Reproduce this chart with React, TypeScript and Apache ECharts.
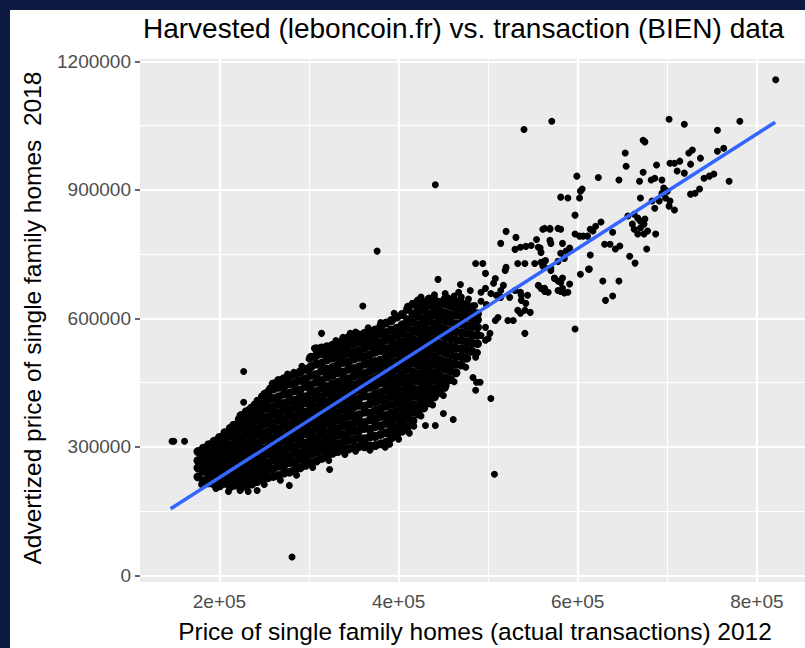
import React, { useEffect, useRef } from "react";
import * as echarts from "echarts";

const TITLE = "Harvested (leboncoin.fr) vs. transaction (BIEN) data";
const X_TITLE = "Price of single family homes (actual transactions) 2012";
const Y_TITLE = "Advertized price of single family homes  2018";

const xTickValues = [200000, 400000, 600000, 800000];
const xMinorValues = [300000, 500000, 700000];
const yTickValues = [0, 300000, 600000, 900000, 1200000];
const yMinorValues = [150000, 450000, 750000, 1050000];

// fitted regression line end points (price 2012 -> advertised 2018)
const fitX = [145500, 820500];
const fitY = [155500, 1058000];

// dense cloud, read column by column (thousands of euros)
const blobX = [176, 182, 188, 194, 200, 206, 212, 218, 224, 230, 236, 242, 248, 254, 260, 266, 272, 278, 284, 290, 296, 302, 308, 314, 320, 326, 332, 338, 344, 350, 356, 362, 368, 374, 380, 386, 392, 398, 404, 410, 416, 422, 428, 434, 440, 446, 452, 458, 464, 470, 476, 482, 488];
const blobY = [
  [230, 251, 268, 289],
  [221, 243, 259, 278, 297],
  [216, 236, 250, 271, 286, 305],
  [213, 229, 247, 261, 281, 299, 313],
  [209, 226, 241, 259, 273, 292, 307, 322],
  [215, 231, 249, 264, 283, 298, 317, 333],
  [207, 223, 240, 255, 273, 291, 305, 325, 343],
  [211, 229, 245, 263, 279, 296, 315, 331, 351],
  [205, 219, 237, 253, 271, 287, 306, 321, 341, 358, 373],
  [209, 227, 243, 261, 277, 296, 311, 331, 347, 366, 382],
  [213, 233, 249, 267, 285, 301, 320, 337, 355, 373, 391],
  [219, 238, 256, 271, 291, 307, 327, 343, 363, 379, 399],
  [225, 243, 261, 278, 295, 315, 331, 351, 367, 387, 405, 417],
  [228, 247, 263, 283, 299, 319, 335, 355, 371, 391, 409, 427],
  [231, 249, 269, 285, 305, 321, 341, 357, 377, 393, 413, 435, 447],
  [233, 255, 271, 291, 307, 327, 343, 363, 379, 399, 417, 439, 455],
  [239, 257, 277, 293, 313, 329, 349, 365, 385, 401, 423, 441, 459],
  [241, 263, 279, 299, 315, 335, 351, 371, 387, 407, 425, 447, 465],
  [247, 265, 285, 301, 321, 337, 357, 373, 393, 409, 431, 449, 469],
  [251, 271, 287, 307, 323, 343, 359, 379, 395, 415, 433, 455, 475],
  [257, 275, 295, 309, 331, 345, 367, 381, 403, 417, 441, 459, 481],
  [263, 283, 299, 319, 335, 355, 371, 391, 407, 427, 445, 467, 487, 509],
  [267, 287, 305, 321, 341, 357, 377, 393, 413, 429, 451, 469, 493, 513, 529],
  [273, 293, 309, 329, 345, 365, 381, 401, 417, 437, 455, 477, 495, 517, 531],
  [279, 297, 317, 333, 353, 369, 389, 405, 425, 441, 463, 481, 503, 519, 534],
  [285, 303, 321, 339, 357, 375, 393, 411, 429, 447, 467, 485, 507, 523, 537],
  [289, 307, 327, 343, 363, 379, 399, 415, 435, 451, 473, 491, 511, 529, 541],
  [293, 311, 329, 349, 365, 385, 401, 421, 437, 457, 475, 497, 515, 533, 549],
  [295, 315, 333, 351, 371, 387, 407, 423, 443, 459, 481, 499, 519, 537, 555],
  [299, 317, 337, 355, 373, 393, 409, 429, 445, 465, 483, 505, 521, 541, 559],
  [301, 321, 339, 359, 375, 397, 413, 433, 449, 469, 487, 509, 525, 545, 561],
  [300, 319, 343, 357, 381, 395, 419, 435, 455, 471, 493, 511, 531, 549, 565],
  [302, 323, 341, 363, 379, 401, 417, 439, 457, 477, 495, 515, 535, 553, 569],
  [303, 325, 347, 365, 385, 405, 423, 443, 461, 481, 499, 521, 539, 557, 573],
  [307, 329, 349, 371, 389, 409, 427, 449, 467, 487, 503, 525, 543, 563, 581],
  [311, 333, 355, 373, 395, 413, 433, 451, 471, 491, 509, 529, 549, 567, 589],
  [321, 341, 359, 379, 399, 419, 437, 457, 475, 495, 515, 533, 553, 573, 595],
  [329, 347, 367, 385, 405, 423, 443, 461, 481, 499, 519, 539, 559, 577, 603],
  [337, 355, 375, 393, 413, 431, 451, 469, 489, 507, 527, 545, 565, 585, 609],
  [347, 367, 385, 405, 423, 443, 461, 481, 499, 519, 537, 557, 577, 597, 621],
  [361, 381, 399, 419, 437, 457, 475, 495, 513, 533, 551, 571, 591, 611, 633],
  [377, 395, 415, 433, 453, 471, 491, 509, 529, 547, 567, 585, 605, 625, 641],
  [391, 409, 429, 447, 467, 485, 505, 523, 543, 561, 581, 599, 619, 637],
  [403, 421, 441, 459, 479, 497, 517, 535, 555, 573, 593, 611, 631, 645],
  [417, 435, 455, 473, 493, 511, 531, 549, 569, 587, 607, 625, 643],
  [427, 447, 465, 485, 503, 523, 541, 561, 579, 599, 617, 637],
  [443, 461, 481, 499, 519, 537, 557, 575, 595, 613, 633, 645],
  [457, 477, 495, 515, 533, 553, 571, 591, 609, 629, 641],
  [473, 493, 511, 531, 549, 569, 587, 607, 625, 639],
  [491, 511, 529, 549, 567, 587, 605, 623, 636],
  [507, 527, 545, 565, 583, 603, 619, 631],
  [523, 543, 561, 581, 599, 615, 627],
  [541, 561, 579, 597, 611],
];

// ragged edge of the dense cloud (thousands of euros)
const fringePoints: [number, number][] = [
  [215, 352], [221, 365], [233, 388], [239, 400], [250, 425], [256, 437], [276, 470], [292, 488], [300, 505], [311, 520],
  [330, 548], [338, 556], [352, 568], [366, 578], [380, 590], [395, 612], [410, 628], [425, 650], [440, 655], [452, 658],
  [180, 212], [196, 203], [210, 196], [232, 196], [250, 212], [268, 222], [286, 234], [304, 252], [322, 268], [340, 282],
  [352, 290], [368, 292], [390, 306], [400, 318], [412, 332], [425, 372], [438, 398], [450, 420], [462, 452], [475, 486],
  [488, 520],
];

// scattered points outside the dense cloud (thousands of euros)
const sparsePoints: [number, number][] = [
  [821, 1157], [540, 1041], [571, 1060], [702, 1065], [719, 1053], [781, 1060], [756, 1039], [673, 1016], [675, 1012], [653, 986],
  [654, 955], [599, 932], [623, 929], [646, 923], [669, 920], [673, 941], [682, 923], [686, 927], [688, 958], [703, 962],
  [708, 962], [714, 967], [724, 986], [728, 993], [737, 974], [726, 960], [711, 944], [719, 939], [756, 990], [763, 997],
  [741, 927], [747, 932], [752, 937], [769, 920], [603, 897], [605, 902], [581, 883], [589, 881], [602, 881], [597, 841],
  [694, 923], [696, 904], [700, 897], [694, 892], [698, 881], [703, 874], [702, 862], [708, 853], [691, 874], [686, 857],
  [683, 874], [670, 881], [726, 890], [731, 892], [736, 902], [656, 839], [663, 843], [667, 834], [670, 827], [674, 820],
  [675, 832], [661, 820], [663, 808], [667, 797], [674, 797], [678, 804], [687, 797], [670, 811], [677, 762], [658, 745],
  [664, 729], [628, 687], [646, 687], [631, 642], [639, 652], [597, 575], [639, 801], [626, 825], [620, 815], [614, 808],
  [630, 773], [636, 773], [642, 762], [647, 769], [614, 748], [613, 715], [603, 703], [597, 797], [602, 792], [606, 792],
  [611, 792], [617, 804], [561, 808], [569, 808], [581, 808], [558, 764], [570, 775], [583, 775], [581, 752], [587, 757],
  [591, 764], [585, 740], [578, 733], [563, 733], [561, 722], [570, 717], [574, 694], [583, 694], [578, 687], [591, 680],
  [559, 670], [563, 663], [581, 663], [585, 659], [612, 715],
  [376, 757], [441, 912], [520, 803], [514, 775], [531, 789], [530, 761], [536, 766], [542, 768], [548, 770], [554, 784],
  [563, 810], [569, 810], [578, 810], [569, 782], [556, 766], [559, 754], [486, 728], [494, 728], [497, 705], [444, 691],
  [519, 712], [520, 719], [533, 728], [541, 728], [508, 693], [506, 682], [517, 677], [514, 665], [469, 679], [467, 661],
  [480, 665], [492, 661], [497, 670], [503, 658], [509, 654], [514, 649], [524, 649], [530, 665], [536, 661], [537, 654],
  [544, 654], [552, 728], [559, 731], [564, 735], [563, 719], [570, 712], [574, 693], [581, 684], [583, 670], [578, 665],
  [589, 661], [556, 677], [563, 670], [567, 661], [537, 642], [542, 635], [541, 619], [547, 614], [536, 612], [533, 619],
  [541, 565], [528, 595], [522, 595], [497, 579], [502, 565], [500, 553], [492, 560], [497, 549], [508, 595], [511, 602],
  [486, 509], [483, 462], [487, 451], [491, 451], [486, 432], [503, 413], [447, 437], [452, 437], [444, 427], [450, 378],
  [461, 364], [417, 348], [430, 350], [441, 350], [385, 299], [360, 629],
  [507, 236], [422, 418], [424, 453], [409, 390], [392, 367], [403, 367], [403, 346], [374, 322], [363, 304], [358, 304],
  [436, 467], [444, 483],
  [147, 313], [149, 313], [161, 313], [281, 43], [227, 476], [227, 404], [223, 198], [242, 198], [278, 210], [323, 247],
  [200, 217], [198, 311], [200, 311], [189, 257], [187, 233], [191, 245], [202, 276], [229, 348], [228, 341], [231, 339],
  [236, 374], [244, 390], [242, 409], [252, 413], [262, 448], [267, 455], [270, 451], [283, 474], [289, 455], [297, 483],
  [303, 490], [306, 530], [319, 530], [314, 565], [346, 565],
  [485, 630], [492, 640], [498, 632], [478, 645], [470, 650], [462, 652], [455, 648],
];

const FONT = "'Liberation Sans', Arial, Helvetica, sans-serif";

export default function App() {
  const ref = useRef<HTMLDivElement>(null);

  useEffect(() => {
    if (!ref.current) return;
    const chart = echarts.init(ref.current, undefined, { renderer: "svg" });

    const blobPoints: number[][] = [];
    blobX.forEach((x, i) => {
      blobY[i].forEach((y) => blobPoints.push([x * 1000, y * 1000]));
    });
    const loosePoints = sparsePoints
      .concat(fringePoints)
      .map(([x, y]) => [x * 1000, y * 1000]);

    const gridLines: any[] = [];
    xTickValues.forEach((v) => gridLines.push({ xAxis: v, lineStyle: { color: "#ffffff", width: 2.2, type: "solid" } }));
    xMinorValues.forEach((v) => gridLines.push({ xAxis: v, lineStyle: { color: "#ffffff", width: 1.1, type: "solid" } }));
    yTickValues.forEach((v) => gridLines.push({ yAxis: v, lineStyle: { color: "#ffffff", width: 2.2, type: "solid" } }));
    yMinorValues.forEach((v) => gridLines.push({ yAxis: v, lineStyle: { color: "#ffffff", width: 1.1, type: "solid" } }));

    const option: any = {
      animation: false,
      backgroundColor: "#ffffff",
      grid: {
        left: 130,
        top: 49,
        width: 668,
        height: 523,
        show: true,
        backgroundColor: "#EBEBEB",
        borderWidth: 0,
        z: 0,
      },
      xAxis: {
        type: "value",
        min: 111250,
        max: 853750,
        axisLine: { show: false },
        axisTick: {
          show: true,
          customValues: xTickValues,
          length: 5,
          lineStyle: { color: "#333333", width: 1.5 },
        },
        axisLabel: {
          customValues: xTickValues,
          formatter: (v: number) => `${Math.round(v / 100000)}e+05`,
          color: "#4D4D4D",
          fontSize: 19,
          fontFamily: FONT,
          margin: 10,
        },
        splitLine: { show: false },
      },
      yAxis: {
        type: "value",
        min: -15500,
        max: 1205500,
        axisLine: { show: false },
        axisTick: {
          show: true,
          customValues: yTickValues,
          length: 5,
          lineStyle: { color: "#333333", width: 1.5 },
        },
        axisLabel: {
          customValues: yTickValues,
          formatter: (v: number) => String(v),
          color: "#4D4D4D",
          fontSize: 19,
          fontFamily: FONT,
          margin: 9,
        },
        splitLine: { show: false },
      },
      series: [
        {
          type: "line",
          data: [],
          z: 1,
          silent: true,
          markLine: {
            z: 1,
            silent: true,
            symbol: ["none", "none"],
            label: { show: false },
            animation: false,
            data: gridLines,
          },
        },
        {
          type: "scatter",
          data: blobPoints,
          symbol: "circle",
          symbolSize: 9,
          itemStyle: { color: "#000000", opacity: 1 },
          z: 3,
          silent: true,
          progressive: 0,
          large: false,
        },
        {
          type: "scatter",
          data: loosePoints,
          symbol: "circle",
          symbolSize: 7,
          itemStyle: { color: "#000000", opacity: 1 },
          z: 3,
          silent: true,
          progressive: 0,
          large: false,
        },
        {
          type: "line",
          data: fitX.map((x, i) => [x, fitY[i]]),
          symbol: "none",
          showSymbol: false,
          lineStyle: { color: "#3366FF", width: 3.5 },
          z: 6,
          silent: true,
        },
      ],
      graphic: [
        {
          type: "text",
          x: 133,
          y: 18,
          style: {
            text: TITLE,
            fontSize: 28,
            fontFamily: FONT,
            fill: "#000000",
            align: "left",
            verticalAlign: "middle",
          },
        },
        {
          type: "text",
          x: 465,
          y: 621,
          style: {
            text: X_TITLE,
            fontSize: 24.5,
            fontFamily: FONT,
            fill: "#000000",
            align: "center",
            verticalAlign: "middle",
          },
        },
        {
          type: "text",
          x: 22,
          y: 308,
          rotation: Math.PI / 2,
          style: {
            text: Y_TITLE,
            fontSize: 24.5,
            fontFamily: FONT,
            fill: "#000000",
            align: "center",
            verticalAlign: "middle",
          },
        },
      ],
    };

    chart.setOption(option);
    return () => chart.dispose();
  }, []);

  return (
    <div
      style={{
        position: "fixed",
        left: 0,
        top: 0,
        width: 805,
        height: 648,
        background: "#0c1a42",
        overflow: "hidden",
      }}
    >
      <div
        ref={ref}
        style={{
          position: "absolute",
          left: 10,
          top: 10,
          width: 795,
          height: 638,
          background: "#ffffff",
        }}
      />
    </div>
  );
}
